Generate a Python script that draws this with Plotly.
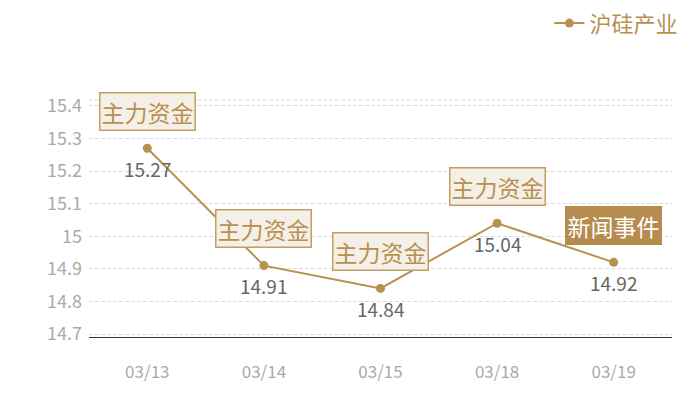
import plotly.graph_objects as go

# data
dates = ["03/13", "03/14", "03/15", "03/18", "03/19"]
prices = [15.27, 14.91, 14.84, 15.04, 14.92]
events = ["主力资金", "主力资金", "主力资金", "主力资金", "新闻事件"]
y_ticks = [14.7, 14.8, 14.9, 15.0, 15.1, 15.2, 15.3, 15.4]
y_labels = ["14.7", "14.8", "14.9", "15", "15.1", "15.2", "15.3", "15.4"]

gold = "#b8904f"
font_cn = "Noto Sans CJK SC"

fig = go.Figure()
fig.add_trace(go.Scatter(
    x=dates, y=prices, name="沪硅产业", mode="lines+markers",
    line=dict(color=gold, width=2),
    marker=dict(color=gold, size=9),
    hoverinfo="skip",
))

# value labels under the points, event boxes above
for d, p, ev in zip(dates, prices, events):
    fig.add_annotation(x=d, y=p, text=f"{p:.2f}", showarrow=False, yshift=-20,
                       font=dict(family=font_cn, size=19, color="#666666"))
    if ev == "新闻事件":
        box = dict(bgcolor="#b58c4e", bordercolor="#b58c4e", font=dict(family=font_cn, size=23, color="white"))
    else:
        box = dict(bgcolor="#f4efe7", bordercolor="#c39d62", font=dict(family=font_cn, size=23, color=gold))
    fig.add_annotation(x=d, y=p, text=ev, showarrow=False, yshift=37,
                       borderwidth=1.5, borderpad=1, **box)

# dashed line on top of the plot area
fig.add_shape(type="line", xref="paper", yref="paper", x0=0, x1=1, y0=1, y1=1,
              line=dict(color="#dcdcdc", width=1, dash="4px,2px"))

# page body has an 8px margin, so the figure sits 8px in; keep it inside the window
fig.update_layout(
    width=692, height=392,
    margin=dict(l=81, r=28, t=92, b=63, autoexpand=False),
    paper_bgcolor="white", plot_bgcolor="white",
    font=dict(family=font_cn, color="#aaaaaa"),
    showlegend=True,
    legend=dict(orientation="h", xref="container", yref="container",
                x=0.976, xanchor="right", y=0.961, yanchor="middle",
                font=dict(family=font_cn, size=22, color=gold), itemwidth=30,
                bgcolor="rgba(0,0,0,0)", borderwidth=0),
)
fig.update_xaxes(
    type="category", range=[-0.5, 4.5],
    showgrid=False, showline=True, linecolor="#333333", linewidth=1,
    tickfont=dict(size=17, color="#aaaaaa"), ticklabelstandoff=20,
)
fig.update_yaxes(
    range=[14.691, 15.418],
    tickvals=y_ticks, ticktext=y_labels,
    showgrid=True, gridcolor="#dcdcdc", griddash="4px,2px", gridwidth=1,
    zeroline=False, showline=False,
    tickfont=dict(size=18, color="#aaaaaa"), ticklabelstandoff=6,
)

fig.write_html("out.html")
